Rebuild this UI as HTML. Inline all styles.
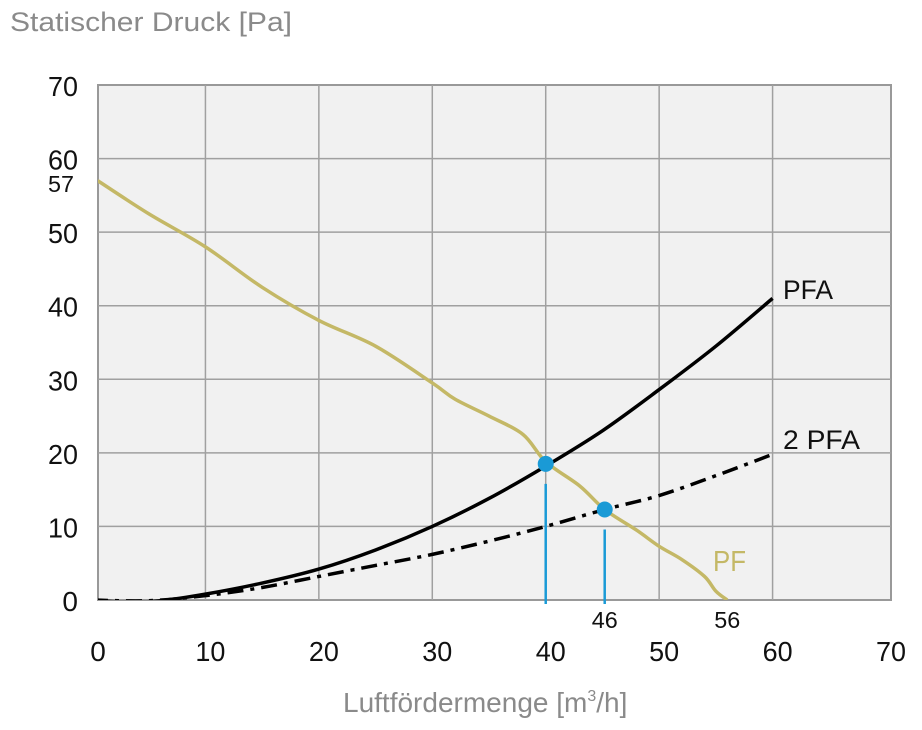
<!DOCTYPE html>
<html><head><meta charset="utf-8"><style>
body{margin:0;background:#fff;}
svg{display:block;font-family:"Liberation Sans",sans-serif;}
</style></head><body>
<svg width="922" height="730">
<defs><clipPath id="pc"><rect x="98" y="85" width="793" height="515"/></clipPath></defs>
<text x="10" y="31" font-size="27" fill="#8a8a8a" textLength="282" lengthAdjust="spacingAndGlyphs">Statischer Druck [Pa]</text>
<rect x="98" y="85" width="793" height="515" fill="#f1f1f1" stroke="#999" stroke-width="2"/>
<g id="grid"></g>
<g id="ticks"></g>
<g id="series" clip-path="url(#pc)"></g>
<g id="marks"></g>
<text x="343" y="712" font-size="28" fill="#8a8a8a">Luftfördermenge [m<tspan font-size="16" dy="-11">3</tspan><tspan dy="11">/h]</tspan></text>
<text x="783" y="299" font-size="27" fill="#111" textLength="50" lengthAdjust="spacingAndGlyphs">PFA</text>
<text x="783" y="449" font-size="27" fill="#111" textLength="77" lengthAdjust="spacingAndGlyphs">2 PFA</text>
<text x="713" y="571" font-size="29" fill="#c4b866" textLength="33" lengthAdjust="spacingAndGlyphs">PF</text>
<text x="48" y="192" font-size="23" fill="#111" textLength="26" lengthAdjust="spacingAndGlyphs">57</text>
</svg>
<script>
const xTicks=[0,10,20,30,40,50,60,70];
const yTicks=[0,10,20,30,40,50,60,70];
const pfaX=[0,3,6,10,15,20,25,30,35,40,45,50,55,60];
const pfaY=[0,-0.3,-0.1,0.8,2.3,4.2,6.8,10,13.8,18.2,23,28.6,34.5,41];
const pfa2X=[0,5,10,15,20,25,30,35,40,45.2,50,55,60];
const pfa2Y=[0,-0.1,0.6,1.7,3.2,4.7,6.2,8,10,12.3,14.2,16.9,19.8];
const pfX=[0.5,5,10,15,20,25,30,32,35,38,40,43,45.2,48,50,52,54,55,56];
const pfY=[57,52.5,48,42.5,38,34.5,29.5,27.3,25,22.5,18.8,15.5,12.3,9.5,7.3,5.5,3.2,1.2,0];
const opX=[40,45.2];
const opY=[18.5,12.3];
const extraX=[45.2,56];
const extraLabels=["46","56"];
const ns="http://www.w3.org/2000/svg";
const X=v=>92+v*11.343, Y=v=>600-v*7.357;
function mk(t,a,p){const e=document.createElementNS(ns,t);for(const k in a)e.setAttribute(k,a[k]);p.appendChild(e);return e;}
const g=document.getElementById('grid'),tk=document.getElementById('ticks');
xTicks.forEach(v=>{
 if(v>0&&v<70){const l=mk('line',{x1:X(v),x2:X(v),y1:85,y2:600,stroke:'#a0a0a0','stroke-width':1.5},g);
 
 }
 const a={x:v==0?98:X(v)+5,y:661,'font-size':28,'text-anchor':'middle',fill:'#111'};
 if(String(v).length>1){a.textLength=30;a.lengthAdjust='spacingAndGlyphs';}
 const t=mk('text',a,tk);t.textContent=v;
 
 
});
yTicks.forEach(v=>{
 if(v>0&&v<70){const l=mk('line',{x1:98,x2:891,y1:Y(v),y2:Y(v),stroke:'#a0a0a0','stroke-width':1.5},g);
 
 }
 const a={x:78,y:Y(v)+11,'font-size':28,'text-anchor':'end',fill:'#111'};
 if(String(v).length>1){a.textLength=30;a.lengthAdjust='spacingAndGlyphs';}
 const t=mk('text',a,tk);t.textContent=v;
 
 
});
extraX.forEach((v,i)=>{const t=mk('text',{x:X(v),y:628,'font-size':23,'text-anchor':'middle',fill:'#111',textLength:26,lengthAdjust:'spacingAndGlyphs'},tk);t.textContent=extraLabels[i];
 
 });
function path(xs,ys){const p=xs.map((x,i)=>[X(x),Y(ys[i])]);
 let d='M'+p[0][0]+','+p[0][1];
 for(let i=0;i<p.length-1;i++){const p0=p[i-1]||p[i],p1=p[i],p2=p[i+1],p3=p[i+2]||p2;
 d+=` C${p1[0]+(p2[0]-p0[0])/6},${p1[1]+(p2[1]-p0[1])/6} ${p2[0]-(p3[0]-p1[0])/6},${p2[1]-(p3[1]-p1[1])/6} ${p2[0]},${p2[1]}`;}
 return d;}
const s=document.getElementById('series');
let e=mk('path',{d:path(pfX,pfY),fill:'none',stroke:'#c4b866','stroke-width':3.5},s);


e=mk('path',{d:path(pfa2X,pfa2Y),fill:'none',stroke:'#000','stroke-width':3.5,'stroke-dasharray':'16 7 4 7'},s);


e=mk('path',{d:path(pfaX,pfaY),fill:'none',stroke:'#000','stroke-width':3.5},s);


const m=document.getElementById('marks');
opX.forEach((v,i)=>{
 const l=mk('line',{x1:X(v),x2:X(v),y1:Y(opY[i])+20,y2:604,stroke:'#1a9ad6','stroke-width':2.5},m);
 
 
 const c=mk('circle',{cx:X(v),cy:Y(opY[i]),r:8,fill:'#1a9ad6'},m);
 
 
});
</script>
</body></html>
